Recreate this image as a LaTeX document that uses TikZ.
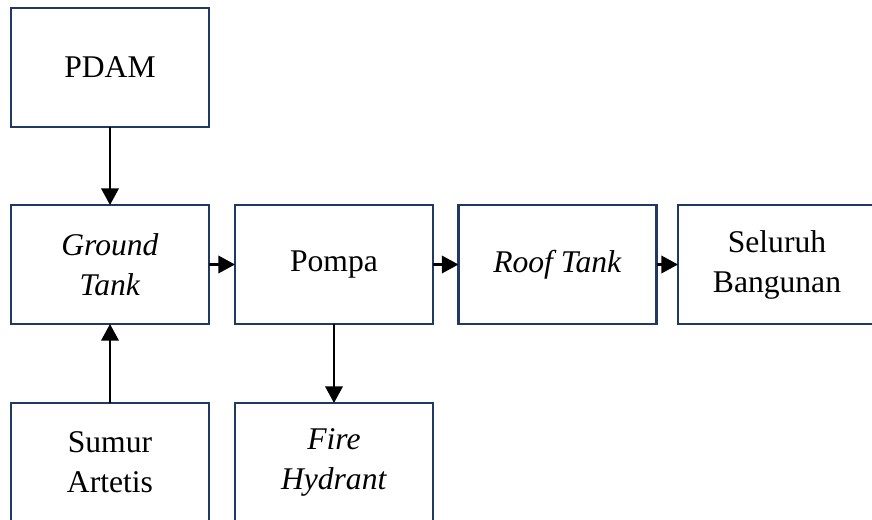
\documentclass[tikz,border=0pt]{standalone}
\usepackage{fontspec}
\setmainfont{Liberation Serif}
\usetikzlibrary{arrows.meta}
\definecolor{boxline}{HTML}{1F3864}
\tikzset{
  block/.style={draw=boxline, line width=1.9pt, rectangle, fill=white,
    minimum width=148.5pt, minimum height=89.25pt, inner sep=0pt, outer sep=0pt,
    align=center, font=\fontsize{23.7pt}{30pt}\selectfont},
  flow/.style={line width=2pt, -{Triangle[length=12.5pt,width=13pt]}}
}
\begin{document}
\begin{tikzpicture}[x=0.75pt, y=-0.75pt]
  \useasboundingbox (0,0) rectangle (872,519);
  \clip (0,0) rectangle (872,519);
  % boxes of the water supply chain
  \node[block] (pdam)    at (110,67.5)   {PDAM};
  \node[block] (ground)  at (110,264.5)  {\textit{Ground}\\\textit{Tank}};
  \node[block] (pompa)   at (334,264.5)  {Pompa};
  \node[block] (roof)    at (557.5,264.5){\textit{Roof Tank}};
  \node[block] (seluruh) at (777,264.5)  {Seluruh\\Bangunan};
  \node[block] (sumur)   at (110,462.5)  {Sumur\\Artetis};
  \node[block] (fire)    at (334,462.5)  {\textit{Fire}\\\textit{Hydrant}};
  % flow connections
  \draw[flow] (pdam) -- (ground);
  \draw[flow] (sumur) -- (ground);
  \draw[flow] (ground) -- (pompa);
  \draw[flow] (pompa) -- (roof);
  \draw[flow] (roof) -- (seluruh);
  \draw[flow] (pompa) -- (fire);
\end{tikzpicture}
\end{document}
